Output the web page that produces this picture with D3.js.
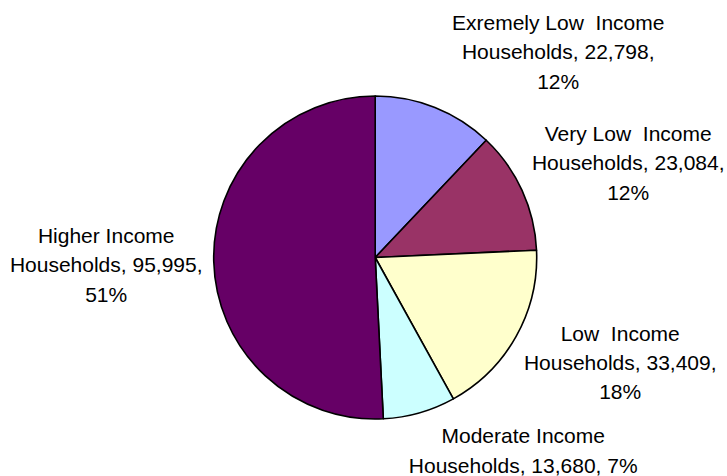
<!DOCTYPE html>
<html>
<head>
<meta charset="utf-8">
<script src="https://cdn.jsdelivr.net/npm/d3@7"></script>
<style>
  html, body { margin: 0; padding: 0; background: #fff; }
  svg { display: block; }
  text { font-family: "Liberation Sans", Arial, sans-serif; font-size: 21px; fill: #000; white-space: pre; }
</style>
</head>
<body>
<svg id="chart" width="727" height="476"></svg>
<script>
// ---- data ----
const categories = [
  "Exremely Low  Income Households",
  "Very Low  Income Households",
  "Low  Income Households",
  "Moderate Income Households",
  "Higher Income Households"
];
const values = [22798, 23084, 33409, 13680, 95995];
const colors = ["#9999FF", "#993366", "#FFFFCC", "#CCFFFF", "#660066"];
// label lines (as displayed, wrapped)
const labelLines = [
  ["Exremely Low  Income", "Households, 22,798,", "12%"],
  ["Very Low  Income", "Households, 23,084,", "12%"],
  ["Low  Income", "Households, 33,409,", "18%"],
  ["Moderate Income", "Households, 13,680, 7%"],
  ["Higher Income", "Households, 95,995,", "51%"]
];

// ---- layout ----
const cx = 375.2, cy = 257.5, radius = 161.5;
const lineHeight = 29.3;
// label center-x and first baseline, relative to the pie centre
const labelPos = [
  [183, -227.5],
  [253, -116.5],
  [245, 83.2],
  [148, 185.8],
  [-269, -14.5]
];

const svg = d3.select("#chart");
const g = svg.append("g").attr("transform", `translate(${cx},${cy})`);

const pie = d3.pie().sort(null).value(d => d.value);
const arc = d3.arc().innerRadius(0).outerRadius(radius);
const data = categories.map((c, i) => ({ name: c, value: values[i], color: colors[i] }));
const arcs = pie(data);

g.selectAll("path.slice")
  .data(arcs)
  .join("path")
  .attr("class", "slice")
  .attr("d", arc)
  .attr("fill", d => d.data.color)
  .attr("stroke", "#000")
  .attr("stroke-width", 1.6)
  .attr("stroke-linejoin", "round");

const labels = g.selectAll("text.label")
  .data(arcs)
  .join("text")
  .attr("class", "label")
  .attr("text-anchor", "middle")
  .attr("transform", (d, i) => `translate(${labelPos[i][0]},${labelPos[i][1]})`);

labels.each(function(d, i) {
  const t = d3.select(this);
  labelLines[i].forEach((ln, j) => {
    t.append("tspan").attr("x", 0).attr("y", j * lineHeight).text(ln);
  });
});
</script>
</body>
</html>
